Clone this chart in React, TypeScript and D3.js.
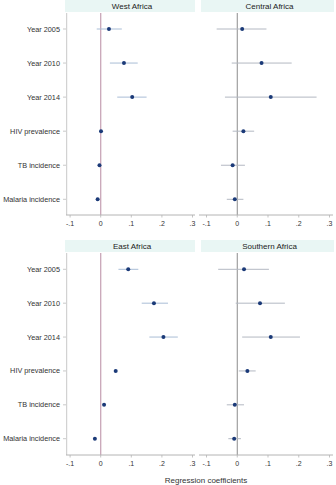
import React from "react";
import * as d3 from "d3";

const categories = ["Year 2005", "Year 2010", "Year 2014", "HIV prevalence", "TB incidence", "Malaria incidence"];
const regions = ["West Africa", "Central Africa", "East Africa", "Southern Africa"];
const ticks = [-0.1, 0, 0.1, 0.2, 0.3];
const tickLabels = ["-.1", "0", ".1", ".2", ".3"];

const westEst = [0.027, 0.076, 0.103, 0.001, -0.004, -0.010];
const westLo = [-0.013, 0.030, 0.054, -0.003, -0.006, -0.014];
const westHi = [0.069, 0.121, 0.150, 0.006, -0.002, -0.005];

const centralEst = [0.016, 0.079, 0.109, 0.020, -0.015, -0.008];
const centralLo = [-0.067, -0.018, -0.040, -0.015, -0.053, -0.034];
const centralHi = [0.095, 0.177, 0.258, 0.055, 0.025, 0.020];

const eastEst = [0.090, 0.174, 0.205, 0.049, 0.011, -0.019];
const eastLo = [0.058, 0.134, 0.159, 0.045, 0.009, -0.021];
const eastHi = [0.123, 0.220, 0.252, 0.053, 0.013, -0.017];

const southEst = [0.022, 0.074, 0.109, 0.033, -0.008, -0.010];
const southLo = [-0.062, -0.005, 0.016, 0.005, -0.034, -0.029];
const southHi = [0.103, 0.155, 0.204, 0.060, 0.022, 0.012];

const panelData = [
  { est: westEst, lo: westLo, hi: westHi },
  { est: centralEst, lo: centralLo, hi: centralHi },
  { est: eastEst, lo: eastLo, hi: eastHi },
  { est: southEst, lo: southLo, hi: southHi },
];

const FONT = "'Liberation Sans', Arial, sans-serif";

export default function App() {
  const W = 336, H = 485;
  const cols = [
    { x0: 66, x1: 195, r0: 70.1, r1: 192.5, strip0: 65, strip1: 195 },
    { x0: 199, x1: 333, r0: 206.5, r1: 329.5, strip0: 201, strip1: 334 },
  ];
  const rows = [
    { top: 0, yA: 29, yB: 199.3, axisY: 215 },
    { top: 240, yA: 269.3, yB: 438.7, axisY: 455 },
  ];

  const panels = regions.map((name, i) => {
    const c = cols[i % 2];
    const r = rows[Math.floor(i / 2)];
    const x = d3.scaleLinear().domain([-0.1, 0.3]).range([c.r0, c.r1]);
    const y = d3.scalePoint<string>().domain(categories).range([r.yA, r.yB]);
    const d = panelData[i];
    const left = i % 2 === 0;
    return (
      <g key={name}>
        <rect x={c.strip0} y={r.top} width={c.strip1 - c.strip0} height={12} fill="#e9f6f4" />
        <text x={(c.strip0 + c.strip1) / 2 + 2} y={r.top + 9} textAnchor="middle" fontSize={8} fill="#222" fontFamily={FONT}>{name}</text>
        {left && (
          <g>
            <line x1={c.x0 + 0.7} x2={c.x0 + 0.7} y1={r.top + 13} y2={r.axisY} stroke="#c8c8c8" strokeWidth={1} />
            {categories.map((cat) => (
              <g key={cat}>
                <line x1={c.x0 - 3} x2={c.x0} y1={y(cat)} y2={y(cat)} stroke="#bbb" strokeWidth={0.8} />
                <text x={c.x0 - 6} y={(y(cat) as number) + 2.5} textAnchor="end" fontSize={7.3} fill="#333" fontFamily={FONT}>{cat}</text>
              </g>
            ))}
          </g>
        )}
        <line x1={x(0)} x2={x(0)} y1={r.top + 13} y2={r.axisY} stroke={left ? "#c9a6b8" : "#8c8c8c"} strokeWidth={left ? 1.3 : 1} />
        <line x1={c.x0} x2={c.x1} y1={r.axisY} y2={r.axisY} stroke="#b4b4b4" strokeWidth={1} />
        {ticks.map((t, k) => (
          <g key={k}>
            <line x1={x(t)} x2={x(t)} y1={r.axisY} y2={r.axisY + 2.5} stroke="#b4b4b4" strokeWidth={0.8} />
            <text x={x(t)} y={r.axisY + 11} textAnchor="middle" fontSize={7} fill="#333" fontFamily={FONT}>{tickLabels[k]}</text>
          </g>
        ))}
        {categories.map((cat, k) => (
          <g key={cat}>
            <line x1={x(d.lo[k])} x2={x(d.hi[k])} y1={y(cat)} y2={y(cat)} stroke={left ? "#a9bdd6" : "#b3b8c2"} strokeWidth={1} />
            <circle cx={x(d.est[k])} cy={y(cat)} r={2} fill="#1b3a78" />
          </g>
        ))}
      </g>
    );
  });

  return (
    <svg width={W} height={H} style={{ position: "absolute", left: 0, top: 0, background: "#fff" }}>
      <rect width={W} height={H} fill="#fff" />
      {panels}
      <text x={206} y={483} textAnchor="middle" fontSize={8} fill="#333" fontFamily={FONT}>Regression coefficients</text>
    </svg>
  );
}
